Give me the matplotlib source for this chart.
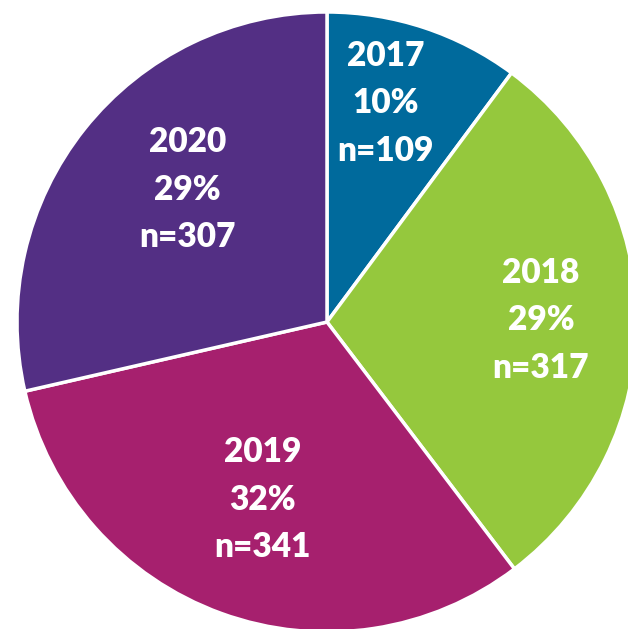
import matplotlib
matplotlib.use("Agg")
import matplotlib.pyplot as plt
import numpy as np

# data
years = ['2017', '2018', '2019', '2020']
counts = [109, 317, 341, 307]
percents = ['10%', '29%', '32%', '29%']

colors = ['#006A9C', '#95C83D', '#A6206E', '#532F84']

# label placement (radius, angle in degrees) in pie coordinates
label_pos = [(0.73, 75), (0.69, 0.5), (0.61, -110), (0.62, 136.5)]

fig = plt.figure(figsize=(6.28, 6.29), dpi=100)
cx, cy, r = 327, 322, 310
ax = fig.add_axes([(cx - r) / 628, (629 - cy - r) / 629, 2 * r / 628, 2 * r / 629])

ax.pie(counts, colors=colors, startangle=90, counterclock=False,
       wedgeprops=dict(edgecolor='white', linewidth=2.5), radius=1)
ax.set_xlim(-1, 1)
ax.set_ylim(-1, 1)
ax.set_aspect('equal')
ax.axis('off')

for yr, pc, n, (rr, ang) in zip(years, percents, counts, label_pos):
    a = np.deg2rad(ang)
    ax.text(rr * np.cos(a), rr * np.sin(a), f'{yr}\n{pc}\nn={n}',
            ha='center', va='center', color='white', fontsize=24,
            fontweight='heavy', family='Lato', linespacing=1.6)

fig.savefig('out.png', dpi=100, facecolor='white')
